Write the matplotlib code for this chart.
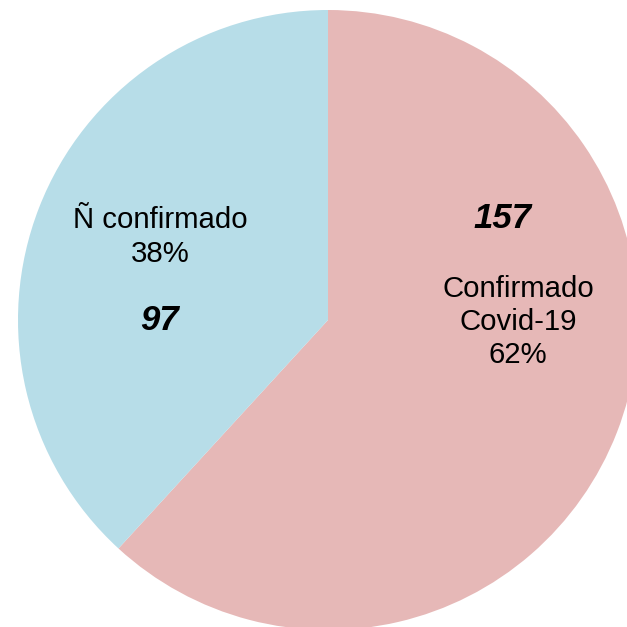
import matplotlib.pyplot as plt

# Datos
categorias = ['Confirmado\nCovid-19', 'Ñ confirmado']
valores = [157, 97]
colores = ['#E6B8B7', '#B7DDE8']

total = sum(valores)
porcentajes = [round(100 * v / total) for v in valores]

fig = plt.figure(figsize=(6.27, 6.27), dpi=100)
ax = fig.add_axes([0, 0, 1, 1])
ax.set_aspect('equal')

ax.pie(valores, colors=colores, startangle=90, counterclock=False,
       center=(328, 627 - 320), radius=310, frame=True,
       wedgeprops=dict(linewidth=0))
ax.set_xlim(0, 627)
ax.set_ylim(0, 627)
ax.axis('off')

fuente = ['Liberation Sans', 'DejaVu Sans']

# Etiquetas (posiciones en pixeles desde arriba)
pos_texto = [(518, 322), (160, 237)]
pos_valor = [(503, 218), (160, 321)]
for cat, p, v, (tx, ty), (vx, vy) in zip(categorias, porcentajes, valores, pos_texto, pos_valor):
    ax.text(tx, 627 - ty, f'{cat}\n{p}%', ha='center', va='center',
            fontsize=21.2, linespacing=1.23, family=fuente)
    ax.text(vx, 627 - vy, str(v), ha='center', va='center', fontsize=25,
            fontweight='bold', fontstyle='italic', family=fuente)

fig.savefig('out.png', dpi=100)
